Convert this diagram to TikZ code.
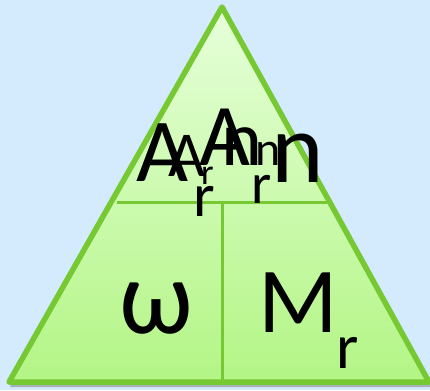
\documentclass[tikz,border=0pt]{standalone}
\usepackage{fontspec}
\setmainfont{Carlito}
\definecolor{bgblue}{HTML}{D4EAFD}
\definecolor{edgegreen}{HTML}{77C933}
\definecolor{topfill}{HTML}{E6FFDA}
\definecolor{botfill}{HTML}{B3F585}
\tikzset{
  glyph/.style={inner sep=0pt, anchor=base west, text=black},
  divider/.style={draw=edgegreen, line width=3pt},
}
\newcommand{\fsz}[1]{\fontsize{#1}{#1}\selectfont}
\begin{document}
\begin{tikzpicture}[x=1pt,y=-1pt]
\fill[bgblue] (0,0) rectangle (430,390);
\useasboundingbox (0,0) rectangle (430,390);
% shadow
\fill[black!70, opacity=0.35] (224,10) -- (431,387) -- (10,387) -- cycle;
% triangle
\coordinate (apex) at (222,7);
\coordinate (bl) at (9,382);
\coordinate (br) at (429,382);
\shade[top color=topfill, bottom color=botfill] (apex) -- (br) -- (bl) -- cycle;
\draw[edgegreen, line width=5.5pt, line join=round] (apex) -- (br) -- (bl) -- cycle;
% dividers
\coordinate (hl) at (117,202);
\coordinate (hr) at (327,202);
\coordinate (vt) at (222,202);
\coordinate (vb) at (222,380);
\draw[divider] (hl) -- (hr);
\draw[divider] (vt) -- (vb);
% overlapping top labels
\node[glyph] (a1) at (136,181) {\fsz{90}A};
\node[glyph] (r1) at (193,216) {\fsz{62}r};
\node[glyph] (a2) at (168,176) {\fsz{64}A};
\node[glyph] (r2) at (201,184) {\fsz{36}r};
\node[glyph] (a3) at (199,165) {\fsz{88}A};
\node[glyph] (n1) at (221,165) {\fsz{78}n};
\node[glyph] (n2) at (255,165) {\fsz{48}n};
\node[glyph] (n3) at (271,182) {\fsz{100}n};
\node[glyph] (r3) at (251,203) {\fsz{58}r};
% bottom labels
\node[glyph] (w) at (119,333) {\fsz{106}ω};
\node[glyph] (m) at (258,332) {\fsz{93}M};
\node[glyph] (mr) at (336,368) {\fsz{64}r};
\end{tikzpicture}
\end{document}
